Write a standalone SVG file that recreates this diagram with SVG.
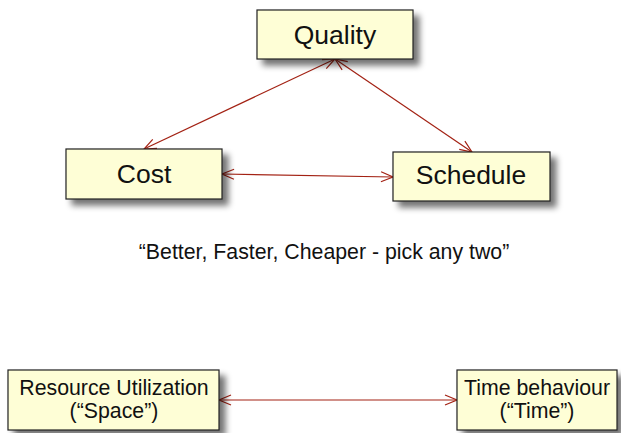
<svg xmlns="http://www.w3.org/2000/svg" width="621" height="433" viewBox="0 0 621 433">
<style>
.box{fill:#fefed6;stroke:#222;stroke-width:1.2}
.t{font-family:"Liberation Sans",Arial,sans-serif;fill:#111;text-anchor:middle}
.big{font-size:26.5px}
.mid{font-size:21.3px}
.c{stroke:#a32214;stroke-width:1.2;fill:none}
</style>
<defs>
<filter id="sh" x="-20%" y="-20%" width="150%" height="160%">
<feGaussianBlur in="SourceAlpha" stdDeviation="3"/>
<feOffset dx="6" dy="6" result="b"/>
<feComponentTransfer><feFuncA type="linear" slope="0.55"/></feComponentTransfer>
<feMerge><feMergeNode/><feMergeNode in="SourceGraphic"/></feMerge>
</filter>
<marker id="ah" viewBox="0 0 14 12" refX="13" refY="6" markerWidth="14" markerHeight="12" markerUnits="userSpaceOnUse" orient="auto-start-reverse">
<path d="M1,1 L13,6 L1,11" fill="none" stroke="#a32214" stroke-width="1.2"/>
</marker>
</defs>
<g id="connectors">
<line class="c" x1="335" y1="59" x2="144" y2="149" marker-start="url(#ah)" marker-end="url(#ah)"/>
<line class="c" x1="335" y1="59" x2="472" y2="152" marker-start="url(#ah)" marker-end="url(#ah)"/>
<line class="c" x1="222" y1="174" x2="393" y2="177" marker-start="url(#ah)" marker-end="url(#ah)"/>
<line class="c" x1="219" y1="400" x2="457" y2="400" marker-start="url(#ah)" marker-end="url(#ah)"/>
</g>
<g id="quality">
<rect class="box" x="257" y="10" width="156" height="49" filter="url(#sh)"/>
<text class="t big" x="335" y="44">Quality</text>
</g>
<g id="cost">
<rect class="box" x="66" y="149" width="156" height="50" filter="url(#sh)"/>
<text class="t big" x="144" y="183">Cost</text>
</g>
<g id="schedule">
<rect class="box" x="393" y="152" width="157" height="49" filter="url(#sh)"/>
<text class="t big" x="471" y="184">Schedule</text>
</g>
<text class="t mid" x="324" y="259">“Better, Faster, Cheaper - pick any two”</text>
<g id="resource">
<rect class="box" x="8" y="370" width="211" height="60" filter="url(#sh)"/>
<text class="t mid" x="114" y="395">Resource Utilization</text>
<text class="t mid" x="114" y="418">(“Space”)</text>
</g>
<g id="time">
<rect class="box" x="457" y="370" width="160" height="60" filter="url(#sh)"/>
<text class="t mid" x="537" y="395">Time behaviour</text>
<text class="t mid" x="537" y="418">(“Time”)</text>
</g>
</svg>
